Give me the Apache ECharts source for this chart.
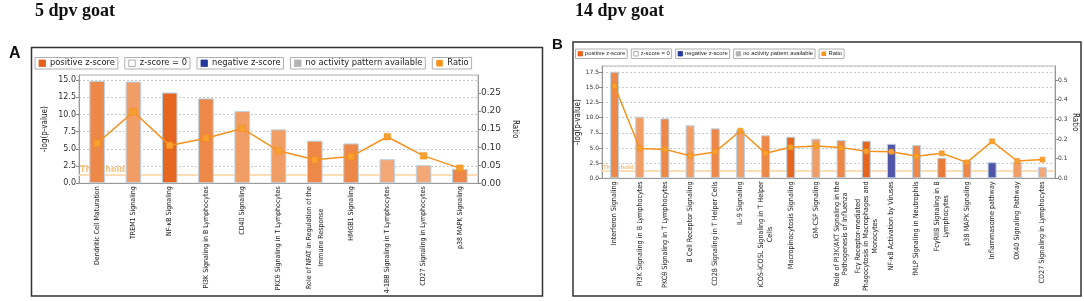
<!DOCTYPE html>
<html><head><meta charset="utf-8">
<script src="https://cdn.jsdelivr.net/npm/echarts@6/dist/echarts.min.js"></script>
<style>html,body{margin:0;padding:0;background:#fff}#c{width:1084px;height:301px}</style>
</head><body><div id="c"></div>
<script>
// ---------- DATA ----------
const titleA = '5 dpv goat';
const titleB = '14 dpv goat';
const legendItems = ['positive z-score', 'z-score = 0', 'negative z-score', 'no activity pattern available', 'Ratio'];

const categoriesA = [
  'Dendritic Cell Maturation', 'TREM1 Signaling', 'NF-\u03BAB Signaling', 'PI3K Signaling in B Lymphocytes',
  'CD40 Signaling', 'PKC\u03B8 Signaling in T Lymphocytes', 'Role of NFAT in Regulation of the\nImmune Response',
  'HMGB1 Signaling', '4-1BB Signaling in T Lymphocytes', 'CD27 Signaling in Lymphocytes', 'p38 MAPK Signaling'
];
const logPA  = [14.9, 14.8, 13.2, 12.35, 10.5, 7.85, 6.2, 5.8, 3.5, 2.65, 2.1];
const ratioA = [0.111, 0.198, 0.105, 0.125, 0.152, 0.090, 0.065, 0.074, 0.129, 0.076, 0.042];
const zClassA = ['mid', 'light', 'dark', 'mid', 'light', 'light', 'mid', 'mid', 'pale', 'pale', 'mid'];

const categoriesB = [
  'Interferon Signaling', 'PI3K Signaling in B Lymphocytes', 'PKC\u03B8 Signaling in T Lymphocytes',
  'B Cell Receptor Signaling', 'CD28 Signaling in T Helper Cells', 'IL-9 Signaling',
  'iCOS-iCOSL Signaling in T Helper\nCells', 'Macropinocytosis Signaling', 'GM-CSF Signaling',
  'Role of PI3K/AKT Signaling in the\nPathogenesis of Influenza',
  'Fc\u03B3 Receptor-mediated\nPhagocytosis in Macrophages and\nMonocytes',
  'NF-\u03BAB Activation by Viruses', 'fMLP Signaling in Neutrophils', 'Fc\u03B3RIIB Signaling in B\nLymphocytes',
  'p38 MAPK Signaling', 'Inflammasome pathway', 'OX40 Signaling Pathway', 'CD27 Signaling in Lymphocytes'
];
const logPB  = [17.6, 10.17, 9.9, 8.75, 8.25, 7.97, 7.1, 6.87, 6.55, 6.32, 6.2, 5.7, 5.5, 3.4, 3.0, 2.65, 2.75, 1.9];
const ratioB = [0.469, 0.152, 0.147, 0.115, 0.134, 0.242, 0.127, 0.158, 0.164, 0.156, 0.137, 0.135, 0.112, 0.127, 0.081, 0.188, 0.088, 0.095];
const zClassB = ['mid', 'light', 'mid', 'light', 'mid', 'light', 'mid', 'dark', 'light', 'mid', 'dark', 'neg', 'mid', 'mid2', 'mid', 'neg', 'light', 'pale'];

const thresholdLogP = 1.3;   // -log10(0.05)
const axisA = { logPMax: 15.75, logPStep: 2.5, ratioMax: 0.30, ratioStep: 0.05 };
const axisB = { logPMax: 18.54, logPStep: 2.5, ratioMax: 0.571, ratioStep: 0.1 };

// ---------- STYLE ----------
const palette = { dark: '#E6661F', mid: '#EE8848', mid2: '#EA7A38', light: '#F19D66', pale: '#F4A878', neg: '#5155A8' };
const legendColors = ['#E8601C', '#FFFFFF', '#24399B', '#B4B4B4', '#F7941D'];
const NARROW = "'Liberation Sans Narrow', 'DejaVu Sans Condensed', 'Liberation Sans', sans-serif";

function barData(vals, cls) {
  return vals.map((v, i) => ({ value: v, itemStyle: { color: palette[cls[i]] } }));
}
function wrapLabel(v) {
  return v.split('\n').map(s => '{c|' + s + '}').join('\n');
}

const mctx = document.createElement('canvas').getContext('2d');
function tw(text, font) { mctx.font = font; return mctx.measureText(text).width; }

function buildLegend(x0, y0, h, fs, family, padL, iconW, sq, gap, padR, spacing) {
  const kids = [];
  let x = x0;
  const font = fs + 'px ' + family;
  legendItems.forEach((name, i) => {
    const w = tw(name, font);
    const bw = padL + iconW + gap + w + padR;
    kids.push({ type: 'rect', shape: { x: x, y: y0, width: bw, height: h },
      style: { fill: '#fff', stroke: '#B0B0B0', lineWidth: 1 } });
    const cy = y0 + h / 2;
    if (i < 4) {
      kids.push({ type: 'rect', shape: { x: x + padL, y: cy - sq / 2, width: sq, height: sq },
        style: { fill: legendColors[i], stroke: i === 1 ? '#999' : legendColors[i], lineWidth: 0.8 } });
    } else {
      kids.push({ type: 'line', shape: { x1: x + padL, y1: cy, x2: x + padL + iconW, y2: cy },
        style: { stroke: legendColors[i], lineWidth: 1.5 } });
      kids.push({ type: 'rect', shape: { x: x + padL + iconW / 2 - sq / 2, y: cy - sq / 2, width: sq, height: sq },
        style: { fill: legendColors[i] } });
    }
    kids.push({ type: 'text', x: x + padL + iconW + gap, y: cy,
      style: { text: name, font: font, fill: '#222', verticalAlign: 'middle', align: 'left' } });
    x += bw + spacing;
  });
  return kids;
}

function ratioSeries(data, xi, yi, size) {
  return { type: 'line', xAxisIndex: xi, yAxisIndex: yi, data: data, symbol: 'rect', symbolSize: size,
    lineStyle: { color: '#F5921E', width: 1.5 }, itemStyle: { color: '#F8A030', borderColor: '#F08A12', borderWidth: 0.5 },
    z: 6, animation: false };
}
function barSeries(vals, cls, xi, yi, bw, thrFont) {
  return { type: 'bar', xAxisIndex: xi, yAxisIndex: yi, data: barData(vals, cls), barWidth: bw, z: 3,
    itemStyle: { borderColor: '#B9D3E6', borderWidth: 1 }, animation: false,
    markLine: { silent: true, symbol: 'none', animation: false, z: 1,
      lineStyle: { color: '#FCDDB4', width: 2, type: 'solid' },
      label: { show: true, position: 'insideStartTop', formatter: 'Threshold', color: '#F8C27C',
        fontWeight: 'bold', fontSize: thrFont, fontFamily: 'DejaVu Sans', distance: [1, 0] },
      data: [{ yAxis: thresholdLogP }] } };
}

function xAxis(cats, gi, fs, lh) {
  return { type: 'category', gridIndex: gi, data: cats,
    axisLine: { lineStyle: { color: '#999' } }, axisTick: { show: false },
    axisLabel: { interval: 0, rotate: 90, margin: 3, color: '#222', formatter: wrapLabel, hideOverlap: false,
      rich: { c: { align: 'center', fontSize: fs, lineHeight: lh, fontFamily: NARROW, color: '#222' } } } };
}
function yAxisL(gi, max, step, fs, digits, gap) {
  return { type: 'value', gridIndex: gi, position: 'left', min: 0, max: max, interval: step,
    name: '-log(p-value)', nameLocation: 'middle', nameGap: gap,
    nameTextStyle: { fontSize: 8, fontFamily: NARROW, color: '#222' },
    axisLine: { show: true, lineStyle: { color: '#999' } },
    axisTick: { show: true, length: 3, lineStyle: { color: '#888' } },
    axisLabel: { fontSize: fs, fontFamily: 'DejaVu Sans', color: '#333', margin: 3, showMaxLabel: false,
      formatter: v => v.toFixed(digits) },
    splitLine: { show: true, lineStyle: { color: '#C8C8C8', type: [2, 2] } } };
}
function yAxisR(gi, max, step, fs, digits, gap) {
  return { type: 'value', gridIndex: gi, position: 'right', min: 0, max: max, interval: step,
    name: 'Ratio', nameLocation: 'middle', nameGap: gap, nameRotate: -90,
    nameTextStyle: { fontSize: 8, fontFamily: NARROW, color: '#222' },
    axisLine: { show: true, lineStyle: { color: '#999' } },
    axisTick: { show: true, length: 3, lineStyle: { color: '#888' } },
    axisLabel: { fontSize: fs, fontFamily: 'DejaVu Sans', color: '#333', margin: 3, showMaxLabel: false,
      formatter: v => v.toFixed(digits) },
    splitLine: { show: false } };
}

const chart = echarts.init(document.getElementById('c'), null, { renderer: 'canvas' });
const option = {
  backgroundColor: '#fff',
  animation: false,
  grid: [
    { left: 79, top: 75, width: 399, height: 108.3, show: true, borderColor: '#B8B8B8', borderWidth: 1,
      backgroundColor: 'transparent', containLabel: false, outerBoundsMode: 'none' },
    { left: 602, top: 66, width: 453, height: 112.3, show: true, borderColor: '#B8B8B8', borderWidth: 1,
      backgroundColor: 'transparent', containLabel: false, outerBoundsMode: 'none' }
  ],
  xAxis: [ xAxis(categoriesA, 0, 7, 12), xAxis(categoriesB, 1, 7.2, 8.5) ],
  yAxis: [
    yAxisL(0, axisA.logPMax, axisA.logPStep, 8, 1, 30),
    yAxisR(0, axisA.ratioMax, axisA.ratioStep, 9, 2, 33),
    yAxisL(1, axisB.logPMax, axisB.logPStep, 6, 1, 19),
    yAxisR(1, axisB.ratioMax, axisB.ratioStep, 6, 1, 16)
  ],
  series: [
    barSeries(logPA, zClassA, 0, 0, 15.6, 8),
    ratioSeries(ratioA, 0, 1, 6.5),
    barSeries(logPB, zClassB, 1, 2, 9, 5.5),
    ratioSeries(ratioB, 1, 3, 5)
  ],
  graphic: {
    elements: [
      { type: 'text', left: 35, top: 2, style: { text: titleA, font: 'bold 18px "Liberation Serif", serif', fill: '#111' } },
      { type: 'text', left: 575, top: 2, style: { text: titleB, font: 'bold 18px "Liberation Serif", serif', fill: '#111' } },
      { type: 'text', left: 9, top: 46, style: { text: 'A', font: 'bold 16px "Liberation Sans", sans-serif', fill: '#111' } },
      { type: 'text', left: 552, top: 37, style: { text: 'B', font: 'bold 15px "Liberation Sans", sans-serif', fill: '#111' } },
      { type: 'rect', shape: { x: 31.5, y: 47.5, width: 511, height: 248.5 }, style: { fill: 'none', stroke: '#333', lineWidth: 1.5 } },
      { type: 'rect', shape: { x: 573, y: 42, width: 508, height: 254 }, style: { fill: 'none', stroke: '#333', lineWidth: 1.5 } },
      { type: 'group', children: buildLegend(35, 57.5, 11.5, 8.3, '"DejaVu Sans", sans-serif', 4, 6.5, 6.5, 4.5, 3, 7) },
      { type: 'group', children: buildLegend(575.5, 49, 9.5, 5.8, '"Liberation Sans", sans-serif', 2.5, 4.5, 4.5, 2.5, 2, 4) }
    ]
  }
};
chart.setOption(option);
</script>
</body></html>
